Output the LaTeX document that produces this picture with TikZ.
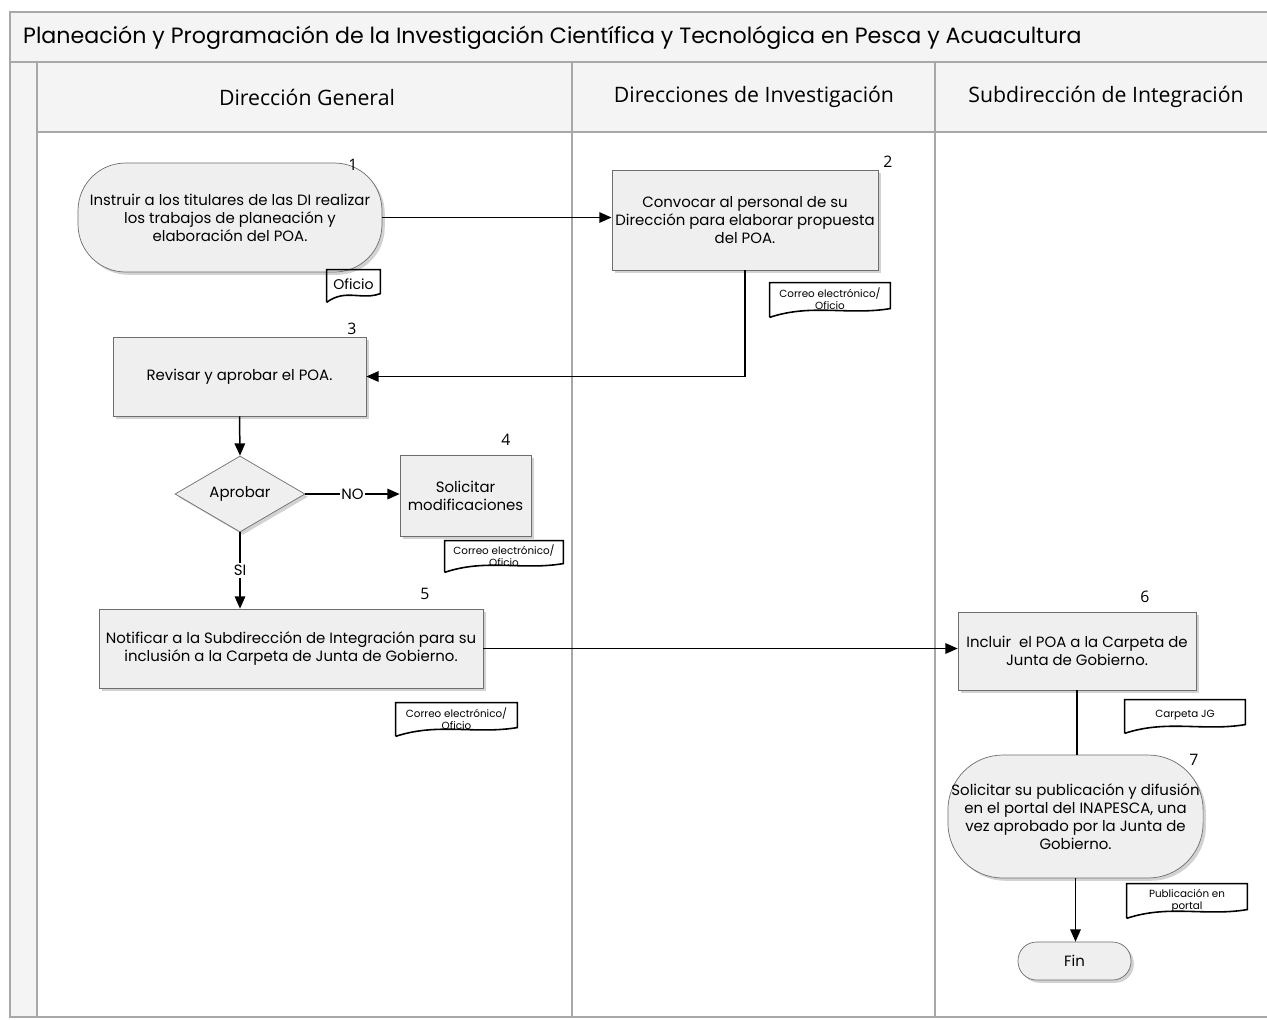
\documentclass[tikz,border=0pt]{standalone}
\usepackage{fontspec}
\setmainfont{Open Sans}
\newfontfamily\bodyfont{Poppins}
\newfontfamily\headfont{Open Sans}
\usetikzlibrary{arrows.meta,shapes.geometric,shadows,calc}

\definecolor{frameline}{HTML}{A8A8A8}
\definecolor{bandfill}{HTML}{F4F4F4}
\definecolor{boxfill}{HTML}{EFEFEF}
\definecolor{boxline}{HTML}{6E6E6E}

\tikzset{
  lanerule/.style={draw=frameline, line width=0.6pt},
  softshadow/.style={drop shadow={shadow xshift=1.6pt, shadow yshift=-1.6pt, opacity=0.35, fill=gray}},
  procbox/.style={rectangle, draw=boxline, line width=0.4pt, fill=boxfill, softshadow,
    align=center, inner sep=2pt, font=\bodyfont\fontsize{8.5}{10.2}\selectfont},
  termbox/.style={procbox, rounded corners=0.95cm},
  decisionbox/.style={diamond, draw=boxline, line width=0.4pt, fill=boxfill, softshadow,
    inner sep=0pt, font=\bodyfont\fontsize{8.5}{10}\selectfont},
  docbox/.style={inner sep=0pt, align=center, font=\bodyfont\fontsize{5.9}{6.8}\selectfont},
  docline/.style={draw=black, line width=0.9pt},
  stepnum/.style={font=\headfont\fontsize{9}{10}\selectfont},
  flow/.style={draw=black, line width=0.85pt, -{Triangle[length=7pt,width=6pt]}},
  plainflow/.style={draw=black, line width=0.85pt},
  lanehead/.style={font=\headfont\fontsize{12.1}{14}\selectfont},
}

% outline of a document symbol: flat top, wavy bottom
\newcommand\docoutline[1]{%
  \draw[docline] (#1.south west) -- (#1.north west) -- (#1.north east)
    -- ($(#1.south east)+(0,5pt)$)
    .. controls ($(#1.south west)!0.65!(#1.south east)+(0,1pt)$)
    and ($(#1.south west)!0.35!(#1.south east)+(0,8pt)$)
    .. (#1.south west);}
% two centred lines for a document label, kept clear of the wavy edge
\newcommand\doclines[2]{\begin{tabular}{@{}c@{}}#1\\#2\\[-0.5pt]\end{tabular}}

\begin{document}
\begin{tikzpicture}[x=0.02cm, y=-0.02cm]
\useasboundingbox (0,0) rectangle (1267,1019);

% pool frame, title band and lane headers
\fill[white] (0,0) rectangle (1267,1019);
\fill[bandfill] (10,12) rectangle (1267,62);
\fill[bandfill] (10,62) rectangle (37,1017);
\fill[bandfill] (37,62) rectangle (1267,132);
\draw[lanerule] (1267,12) -- (10,12) -- (10,1017) -- (1267,1017);
\draw[lanerule] (10,62) -- (1267,62);
\draw[lanerule] (37,132) -- (1267,132);
\draw[lanerule] (37,62) -- (37,1017);
\draw[lanerule] (572,62) -- (572,1017);
\draw[lanerule] (935,62) -- (935,1017);

\node[anchor=west, font=\bodyfont\fontsize{12.6}{15}\selectfont] (title) at (17,38)
  {Planeación y Programación de la Investigación Científica y Tecnológica en Pesca y Acuacultura};
\node[lanehead] (laneA) at (307,97) {Dirección General};
\node[lanehead] (laneB) at (754,97) {Direcciones de Investigación};
\node[lanehead] (laneC) at (1106,97) {Subdirección de Integración};

% activities
\node[termbox, minimum width=6.08cm, minimum height=2.18cm] (n1) at (230,217.5)
  {Instruir a los titulares de las DI realizar\\los trabajos de planeación y\\elaboración del POA.};
\node[procbox, minimum width=5.32cm, minimum height=2.0cm] (n2) at (745,220)
  {Convocar al personal de su\\Dirección para elaborar propuesta\\del POA.};
\node[procbox, minimum width=5.06cm, minimum height=1.58cm] (n3) at (239.5,376.5)
  {Revisar y aprobar el POA.};
\node[decisionbox, minimum width=2.6cm, minimum height=1.52cm] (dec) at (240,494)
  {Aprobar};
\node[procbox, minimum width=2.62cm, minimum height=1.62cm] (n4) at (465.5,495.5)
  {Solicitar\\modificaciones};
\node[procbox, minimum width=7.68cm, minimum height=1.58cm] (n5) at (291,648.5)
  {Notificar a la Subdirección de Integración para su\\inclusión a la Carpeta de Junta de Gobierno.};
\node[procbox, minimum width=4.76cm, minimum height=1.56cm] (n6) at (1077,651)
  {Incluir\ \ el POA a la Carpeta de\\Junta de Gobierno.};
\node[termbox, rounded corners=1.1cm, minimum width=5.1cm, minimum height=2.46cm] (n7) at (1075.5,816.5)
  {Solicitar su publicación y difusión\\en el portal del INAPESCA, una\\vez aprobado por la Junta de\\Gobierno.};
\node[termbox, rounded corners=0.37cm, minimum width=2.26cm, minimum height=0.76cm] (fin) at (1074.5,961)
  {Fin};

% step numbers
\node[stepnum] (k1) at (353,165) {1};
\node[stepnum] (k2) at (888,162) {2};
\node[stepnum] (k3) at (352,329) {3};
\node[stepnum] (k4) at (506,440) {4};
\node[stepnum] (k5) at (425,594) {5};
\node[stepnum] (k6) at (1145,597) {6};
\node[stepnum] (k7) at (1194,760) {7};

% documents produced
\node[docbox, minimum width=1.06cm, minimum height=0.64cm, font=\bodyfont\fontsize{8}{8}\selectfont] (d1) at (353.5,286)
  {\raisebox{2.5pt}{Oficio}};
\node[docbox, minimum width=2.4cm, minimum height=0.68cm] (d2) at (830,300)
  {\doclines{Correo electrónico/}{Oficio}};
\node[docbox, minimum width=2.36cm, minimum height=0.62cm] (d4) at (504,556.5)
  {\doclines{Correo electrónico/}{Oficio}};
\node[docbox, minimum width=2.42cm, minimum height=0.66cm] (d5) at (456.5,719.5)
  {\doclines{Correo electrónico/}{Oficio}};
\node[docbox, minimum width=2.4cm, minimum height=0.66cm] (d6) at (1185,716.5)
  {\raisebox{2.5pt}{Carpeta JG}};
\node[docbox, minimum width=2.4cm, minimum height=0.68cm] (d7) at (1187,901)
  {\doclines{Publicación en}{portal}};
\docoutline{d1}
\docoutline{d2}
\docoutline{d4}
\docoutline{d5}
\docoutline{d6}
\docoutline{d7}

% flow
\draw[flow] (n1.east) -- (n1.east -| n2.west);
\draw[flow] (n2.south) |- (n3.east);
\draw[flow] (n3.south) -- (dec.north);
\draw[flow] (dec.east) -- node[fill=white, inner sep=1pt, font=\bodyfont\fontsize{8.5}{10}\selectfont] (no) {NO} (dec.east -| n4.west);
\draw[flow] (dec.south) -- node[fill=white, inner sep=1pt, font=\bodyfont\fontsize{8.5}{10}\selectfont] (si) {SI} (dec.south |- n5.north);
\draw[flow] (n5.east) -- (n5.east -| n6.west);
\draw[plainflow] (n6.south) -- (n6.south |- n7.north);
\draw[flow] (n7.south) -- (n7.south |- fin.north);
\end{tikzpicture}
\end{document}
